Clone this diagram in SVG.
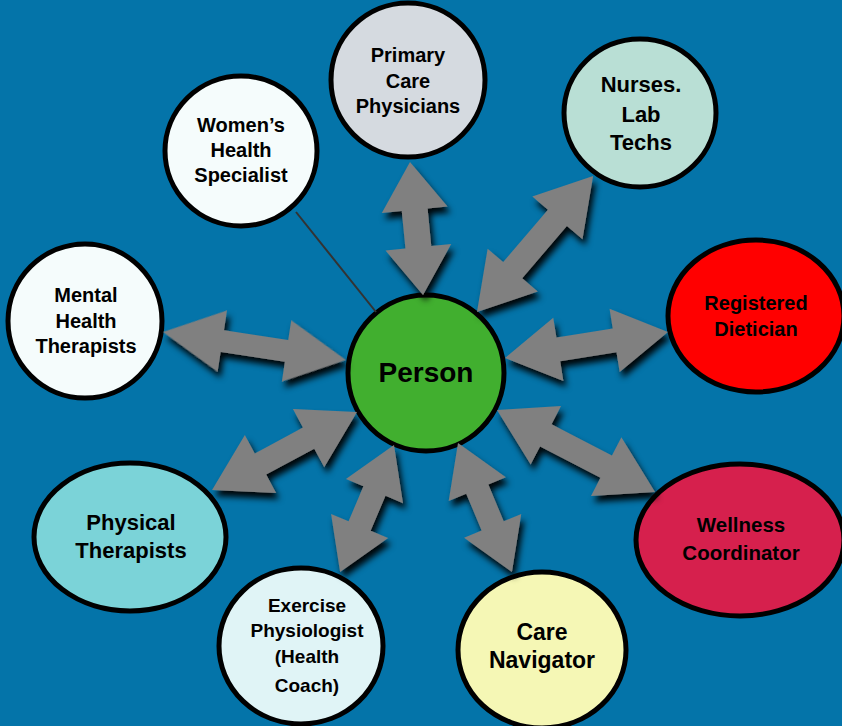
<svg xmlns="http://www.w3.org/2000/svg" width="842" height="726" viewBox="0 0 842 726">
<defs>
<style>
.node{stroke:#000;stroke-width:5}
.lbl{font-family:"Liberation Sans",Arial,sans-serif;font-weight:700;fill:#000;text-anchor:middle}
.arr{fill:#808080}
</style>
<filter id="sh" x="-20%" y="-20%" width="140%" height="140%">
<feDropShadow dx="3" dy="6" stdDeviation="3" flood-color="#000" flood-opacity="0.95"/>
</filter>
</defs>
<rect x="0" y="0" width="842" height="726" fill="#0474a9"/>

<g id="person">
<circle class="node" cx="426" cy="373" r="78" fill="#41af2f"/>
<text class="lbl" x="426" y="382" font-size="28">Person</text>
</g>

<g id="womens-health">
<ellipse class="node" cx="241" cy="151" rx="76" ry="75" fill="#f5fcfc"/>
<text class="lbl" font-size="20"><tspan x="241" y="132">Women’s</tspan><tspan x="241" y="157">Health</tspan><tspan x="241" y="182">Specialist</tspan></text>
</g>

<g id="primary-care">
<circle class="node" cx="408" cy="80" r="77" fill="#d5dae0"/>
<text class="lbl" font-size="20"><tspan x="408" y="62">Primary</tspan><tspan x="408" y="88">Care</tspan><tspan x="408" y="113">Physicians</tspan></text>
</g>

<g id="nurses">
<ellipse class="node" cx="640" cy="113" rx="76" ry="74" fill="#b9dfd5"/>
<text class="lbl" font-size="22"><tspan x="641" y="92">Nurses.</tspan><tspan x="641" y="122">Lab</tspan><tspan x="641" y="150">Techs</tspan></text>
</g>

<g id="dietician">
<ellipse class="node" cx="756" cy="316" rx="88" ry="76" fill="#ff0000"/>
<text class="lbl" font-size="20"><tspan x="756" y="310">Registered</tspan><tspan x="756" y="336">Dietician</tspan></text>
</g>

<g id="wellness">
<ellipse class="node" cx="740" cy="540" rx="104" ry="76" fill="#d6204d"/>
<text class="lbl" font-size="20.5"><tspan x="741" y="532">Wellness</tspan><tspan x="741" y="560">Coordinator</tspan></text>
</g>

<g id="care-navigator">
<ellipse class="node" cx="542" cy="650" rx="84" ry="78" fill="#f5f7b5"/>
<text class="lbl" font-size="23"><tspan x="542" y="640">Care</tspan><tspan x="542" y="668">Navigator</tspan></text>
</g>

<g id="exercise">
<ellipse class="node" cx="301" cy="646" rx="82" ry="78" fill="#e0f4f6"/>
<text class="lbl" font-size="19"><tspan x="307" y="612">Exercise</tspan><tspan x="307" y="637">Physiologist</tspan><tspan x="307" y="663">(Health</tspan><tspan x="307" y="692">Coach)</tspan></text>
</g>

<g id="physical">
<ellipse class="node" cx="130" cy="537" rx="96" ry="74" fill="#7bd3d8"/>
<text class="lbl" font-size="22"><tspan x="131" y="530">Physical</tspan><tspan x="131" y="558">Therapists</tspan></text>
</g>

<g id="mental">
<circle class="node" cx="85" cy="321" r="77" fill="#f5fcfc"/>
<text class="lbl" font-size="20"><tspan x="86" y="302">Mental</tspan><tspan x="86" y="328">Health</tspan><tspan x="86" y="353">Therapists</tspan></text>
</g>

<g id="connectors">
<line x1="296" y1="212" x2="376" y2="312" stroke="#333" stroke-width="2"/>
<g filter="url(#sh)">
<path class="arr" transform="translate(410,162) rotate(84.4)" d="M0,0 L48,-33 L48,-13 L85.6,-13 L85.6,-33 L133.6,0 L85.6,33 L85.6,13 L48,13 L48,33 Z"/>
<path class="arr" transform="translate(477,312) rotate(-49.5)" d="M0,0 L55,-33 L55,-12.5 L123.8,-12.5 L123.8,-33 L178.8,0 L123.8,33 L123.8,12.5 L55,12.5 L55,33 Z"/>
<path class="arr" transform="translate(505,358) rotate(-9.1)" d="M0,0 L54,-32 L54,-12 L111,-12 L111,-32 L165,0 L111,32 L111,12 L54,12 L54,32 Z"/>
<path class="arr" transform="translate(497,410) rotate(27.4)" d="M0,0 L55,-33 L55,-12.5 L123,-12.5 L123,-33 L178,0 L123,33 L123,12.5 L55,12.5 L55,33 Z"/>
<path class="arr" transform="translate(458,443) rotate(67.3)" d="M0,0 L50,-31 L50,-12 L89.8,-12 L89.8,-31 L139.8,0 L89.8,31 L89.8,12 L50,12 L50,31 Z"/>
<path class="arr" transform="translate(394,445) rotate(113)" d="M0,0 L50,-31 L50,-12 L88,-12 L88,-31 L138,0 L88,31 L88,12 L50,12 L50,31 Z"/>
<path class="arr" transform="translate(357,412) rotate(151.7)" d="M0,0 L55,-33 L55,-12 L109.6,-12 L109.6,-33 L164.6,0 L109.6,33 L109.6,12 L55,12 L55,33 Z"/>
<path class="arr" transform="translate(163,332) rotate(8.7)" d="M0,0 L60,-31 L60,-11 L125,-11 L125,-31 L185,0 L125,31 L125,11 L60,11 L60,31 Z"/>
</g>
</g>
</svg>
